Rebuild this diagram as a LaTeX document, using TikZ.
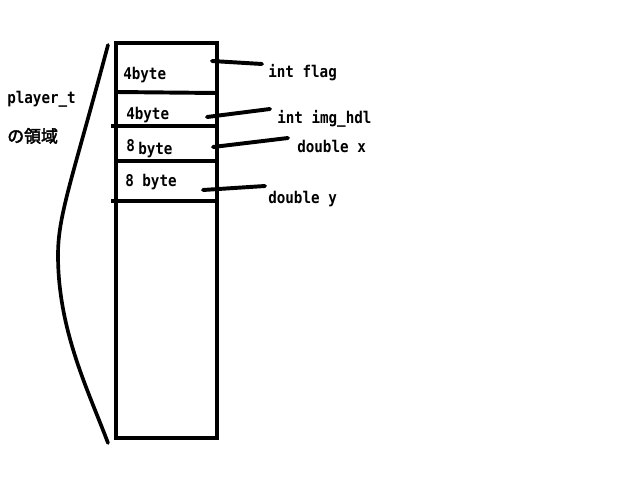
\documentclass[tikz,border=0pt]{standalone}
\usepackage{fontspec}
\setmonofont{DejaVu Sans Mono}[FakeStretch=0.88]
\newfontfamily\jpfont{Noto Sans CJK JP}[AutoFakeBold=2.5]
\usetikzlibrary{positioning}
\tikzset{
    memline/.style={line width=2.8pt, color=black},
    leader/.style={line width=2.8pt, color=black, line cap=round},
    bracket/.style={line width=2.6pt, color=black, line cap=round},
    sizelbl/.style={font=\ttfamily\bfseries\fontsize{11.5}{13}\selectfont, inner sep=0pt, anchor=west},
    fieldlbl/.style={font=\ttfamily\bfseries\fontsize{11.5}{13}\selectfont, inner sep=0pt, anchor=west},
    namelbl/.style={font=\bfseries\fontsize{11.5}{13}\selectfont, inner sep=0pt, anchor=west}
}

\begin{document}
\begin{tikzpicture}[x=0.025cm, y=-0.025cm]
        \useasboundingbox (0,0) rectangle (640,480);

        % Memory block
        \draw[memline] (116,43) rectangle (217,438);
        \draw[memline] (116,92) -- (217,93);
        \draw[memline] (111,126) -- (217,126);
        \draw[memline] (116,161) -- (217,161);
        \draw[memline] (111,201) -- (217,201);

        % Sizes inside the cells
        \node[sizelbl] (s1) at (123,75) {4byte};
        \node[sizelbl] (s2) at (126,115) {4byte};
        \node[sizelbl] (s3a) at (126,146) {8};
        \node[sizelbl] (s3b) at (138,150) {byte};
        \node[sizelbl] (s4) at (125,182) {8 byte};

        % Field names
        \node[fieldlbl] (flag) at (268,73) {int flag};
        \node[fieldlbl] (hdl) at (277,119) {int img\_hdl};
        \node[fieldlbl] (px) at (297,146) {double x};
        \node[fieldlbl] (py) at (268,199) {double y};

        \coordinate (c1) at (212,61);
        \coordinate (c2) at (207,117);
        \coordinate (c3) at (213,147);
        \coordinate (c4) at (203,190);
        \draw[leader] (c1) -- ([shift={(-6,-9)}]flag.west);
        \draw[leader] (c2) -- ([shift={(-7,-10)}]hdl.west);
        \draw[leader] (c3) -- ([shift={(-9,-8)}]px.west);
        \draw[leader] (c4) -- ([shift={(-3,-13)}]py.west);

        % Region of player_t
        \node[namelbl, font=\ttfamily\bfseries\fontsize{11.5}{13}\selectfont] (ptype) at (7,99) {player\_t};
        \node[namelbl, font=\jpfont\bfseries\fontsize{12}{14}\selectfont] (region) at (7,136) {の領域};
        \draw[bracket] (108,45) .. controls (72,180) and (58,215) .. (58,255)
                       .. controls (58,330) and (88,390) .. (108,443);
    \end{tikzpicture}
\end{document}
